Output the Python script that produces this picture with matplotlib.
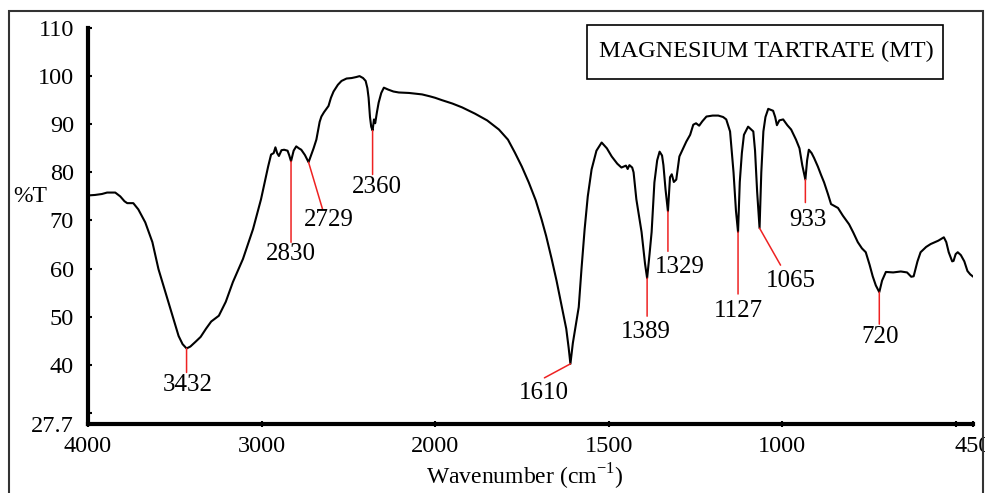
import numpy as np
import matplotlib
matplotlib.use('Agg')
import matplotlib.pyplot as plt
from matplotlib.patches import Rectangle

plt.rcParams['font.family'] = 'Liberation Serif'
plt.rcParams['mathtext.fontset'] = 'custom'
plt.rcParams['mathtext.rm'] = 'Liberation Serif'

# FTIR spectrum of magnesium tartrate
wavenumber = [4000, 3960, 3920, 3890, 3843, 3814, 3790, 3774, 3739, 3710, 3670, 3629,
              3594, 3554, 3513, 3478, 3455, 3432, 3410, 3380, 3351, 3320, 3290, 3246,
              3206, 3165, 3107, 3049, 3003, 2962, 2945, 2930, 2920, 2910, 2900, 2885,
              2870, 2850, 2840, 2830, 2815, 2800, 2785, 2771, 2750, 2729, 2700, 2684,
              2665, 2655, 2640, 2614, 2600, 2585, 2560, 2539, 2510, 2481, 2455, 2435,
              2415, 2400, 2390, 2383, 2375, 2368, 2360, 2352, 2345, 2335, 2325, 2310,
              2295, 2270, 2240, 2209, 2150, 2100, 2075, 2030, 2000, 1980, 1950, 1922,
              1885, 1850, 1816, 1790, 1770, 1750, 1730, 1710, 1693, 1680, 1664, 1650,
              1635, 1622, 1615, 1610, 1603, 1595, 1586, 1578, 1569, 1560, 1549, 1535,
              1520, 1505, 1491, 1475, 1463, 1450, 1445, 1440, 1432, 1428, 1420, 1405,
              1395, 1389, 1382, 1376, 1368, 1360, 1353, 1346, 1342, 1336, 1329, 1323,
              1318, 1312, 1305, 1296, 1285, 1276, 1265, 1256, 1248, 1239, 1230, 1218,
              1200, 1184, 1170, 1161, 1150, 1140, 1133, 1127, 1122, 1116, 1110, 1098,
              1083, 1078, 1072, 1065, 1060, 1054, 1048, 1040, 1026, 1020, 1015, 1008,
              997, 985, 974, 960, 950, 942, 936, 933, 928, 923, 915, 908, 897, 888,
              879, 868, 859, 849, 839, 825, 807, 795, 782, 770, 759, 748, 739, 730,
              720, 712, 701, 680, 658, 640, 628, 621, 610, 601, 585, 572, 550, 534,
              527, 520, 510, 506, 500, 494, 485, 475, 466, 458, 451]
transmittance = [75.2, 75.3, 75.5, 75.8, 75.8, 75.0, 74.0, 73.6, 73.6, 72.3, 69.6, 65.5,
                 59.9, 55.1, 50.2, 46.0, 44.3, 43.4, 43.8, 44.8, 45.8, 47.5, 49.0, 50.2,
                 53.1, 57.2, 62.0, 68.2, 74.4, 81.2, 83.7, 84.0, 85.2, 84.0, 83.4, 84.6,
                 84.7, 84.5, 83.5, 82.3, 84.5, 85.4, 85.0, 84.7, 83.6, 82.1, 85.0, 86.8,
                 90.5, 91.6, 92.5, 93.8, 95.5, 96.8, 98.2, 99.0, 99.5, 99.6, 99.8, 100.0,
                 99.6, 99.0, 97.5, 95.5, 91.5, 89.5, 88.7, 91.0, 90.2, 92.5, 94.5, 96.5,
                 97.6, 97.2, 96.8, 96.6, 96.5, 96.3, 96.2, 95.8, 95.5, 95.0, 94.3, 93.5,
                 92.2, 90.8, 88.9, 86.8, 84.1, 81.2, 77.9, 74.2, 70.2, 66.8, 62.0, 57.5,
                 52.2, 47.5, 43.5, 40.2, 44.5, 48.0, 52.0, 60.0, 68.2, 75.0, 80.6, 84.5,
                 86.2, 85.0, 83.3, 81.8, 81.0, 81.4, 80.7, 81.5, 81.0, 80.0, 74.4, 67.6,
                 61.0, 58.0, 63.0, 67.6, 77.9, 82.5, 84.3, 83.5, 81.5, 76.5, 71.9, 79.0,
                 79.6, 78.0, 78.5, 83.3, 85.0, 86.4, 87.8, 89.9, 90.2, 89.7, 90.6, 91.6,
                 91.8, 91.8, 91.5, 91.0, 88.5, 80.0, 72.0, 67.6, 78.0, 84.0, 87.8, 89.5,
                 88.5, 84.5, 76.0, 68.4, 80.0, 88.5, 91.5, 93.2, 92.8, 91.5, 89.8, 90.8,
                 91.0, 89.8, 88.9, 86.8, 85.0, 81.5, 79.5, 78.5, 82.5, 84.7, 84.0, 83.0,
                 81.2, 79.5, 77.9, 75.5, 73.4, 73.0, 72.6, 71.0, 69.2, 67.5, 65.5, 64.2,
                 63.4, 60.8, 58.4, 56.5, 55.1, 57.5, 59.3, 59.2, 59.4, 59.2, 58.3, 58.4,
                 61.5, 63.4, 64.5, 65.1, 65.8, 66.5, 65.5, 63.4, 61.5, 61.6, 63.0, 63.4,
                 62.8, 61.5, 59.5, 58.8, 58.4]

# labelled bands
peak_wn = [3432, 2830, 2729, 2360, 1610, 1389, 1329, 1127, 1065, 933, 720]
peak_T = [43.4, 82.3, 82.1, 88.7, 40.2, 58.0, 71.9, 67.6, 68.4, 78.5, 55.1]
peak_labels = [str(p) for p in peak_wn]

# label placement (pixels from the band minimum): end of red line, then text centre
line_offsets = [(0, -24), (0, -81), (14, -47), (0, -44), (-26, -14), (0, -38),
                (0, -40), (0, -62), (21, -37), (0, -23), (0, -32)]
text_offsets = [(1, -37), (0, -93), (20, -58), (4, -57), (-27, -29), (-1, -54),
                (12, -56), (0, -79), (31, -53), (3, -40), (1, -45)]

xticks = [4000, 3000, 2000, 1500, 1000, 500, 450]
xtick_labels = ['4000', '3000', '2000', '1500', '1000', '', '450']
yticks = [27.7, 30, 40, 50, 60, 70, 80, 90, 100, 110]
ytick_labels = ['27.7', '', '40', '50', '60', '70', '80', '90', '100', '110']


# x axis is compressed above 2000 cm-1 (half scale)
def fwd(x):
    x = np.asarray(x, dtype=float)
    return np.where(x >= 2000, 1000 + (x - 2000) / 2.0, x - 1000)


def inv(u):
    u = np.asarray(u, dtype=float)
    return np.where(u >= 1000, 2000 + 2.0 * (u - 1000), u + 1000)


fig = plt.figure(figsize=(9.85, 4.93), dpi=100)
ax = fig.add_axes([88 / 985, 1 - 424 / 493, 885 / 985, 396 / 493])
ax.set_xscale('function', functions=(fwd, inv))
ax.plot(wavenumber, transmittance, color='black', lw=1.5)
ax.set_xlim(4000, 450)
ax.set_ylim(27.7, 110)

for spine in ['top', 'right']:
    ax.spines[spine].set_visible(False)
for spine in ['left', 'bottom']:
    ax.spines[spine].set_linewidth(3)

ax.set_xticks(xticks)
ax.set_xticklabels(xtick_labels)
ax.set_yticks(yticks)
ax.set_yticklabels(ytick_labels)
ax.xaxis.set_minor_locator(matplotlib.ticker.NullLocator())
ax.tick_params(axis='x', direction='inout', length=5, width=1.5, labelsize=17.5, pad=6)
ax.tick_params(axis='y', direction='in', length=3, width=1.5, labelsize=17.5, pad=10)

red = '#ee2222'
for wn, t, lab, lo, to in zip(peak_wn, peak_T, peak_labels, line_offsets, text_offsets):
    ax.annotate('', xy=(wn, t), xytext=lo, textcoords='offset pixels',
                arrowprops=dict(arrowstyle='-', color=red, lw=1.1, shrinkA=0, shrinkB=0))
    ax.annotate(lab, xy=(wn, t), xytext=to, textcoords='offset pixels',
                ha='center', va='center', fontsize=18)

fig.text(30 / 985, 1 - 197 / 493, '%T', ha='center', va='center', fontsize=17)
fig.text(525 / 985, 1 - 477 / 493, r'Wavenumber (cm$^{\mathrm{-1}}$)',
         ha='center', va='center', fontsize=17)

# title box
fig.patches.append(Rectangle((587 / 985, 1 - 79 / 493), 356 / 985, 54 / 493,
                             transform=fig.transFigure, fill=False, ec='black', lw=1.2))
fig.text(766 / 985, 1 - 51 / 493, 'MAGNESIUM TARTRATE (MT)', ha='center', va='center',
         fontsize=17.5)

# outer frame of the figure
fig.patches.append(Rectangle((9 / 985, -0.1), 974 / 985, 1.1 - 11 / 493,
                             transform=fig.transFigure, fill=False, ec='#333333', lw=1.5))

fig.savefig('out.png', dpi=100)
